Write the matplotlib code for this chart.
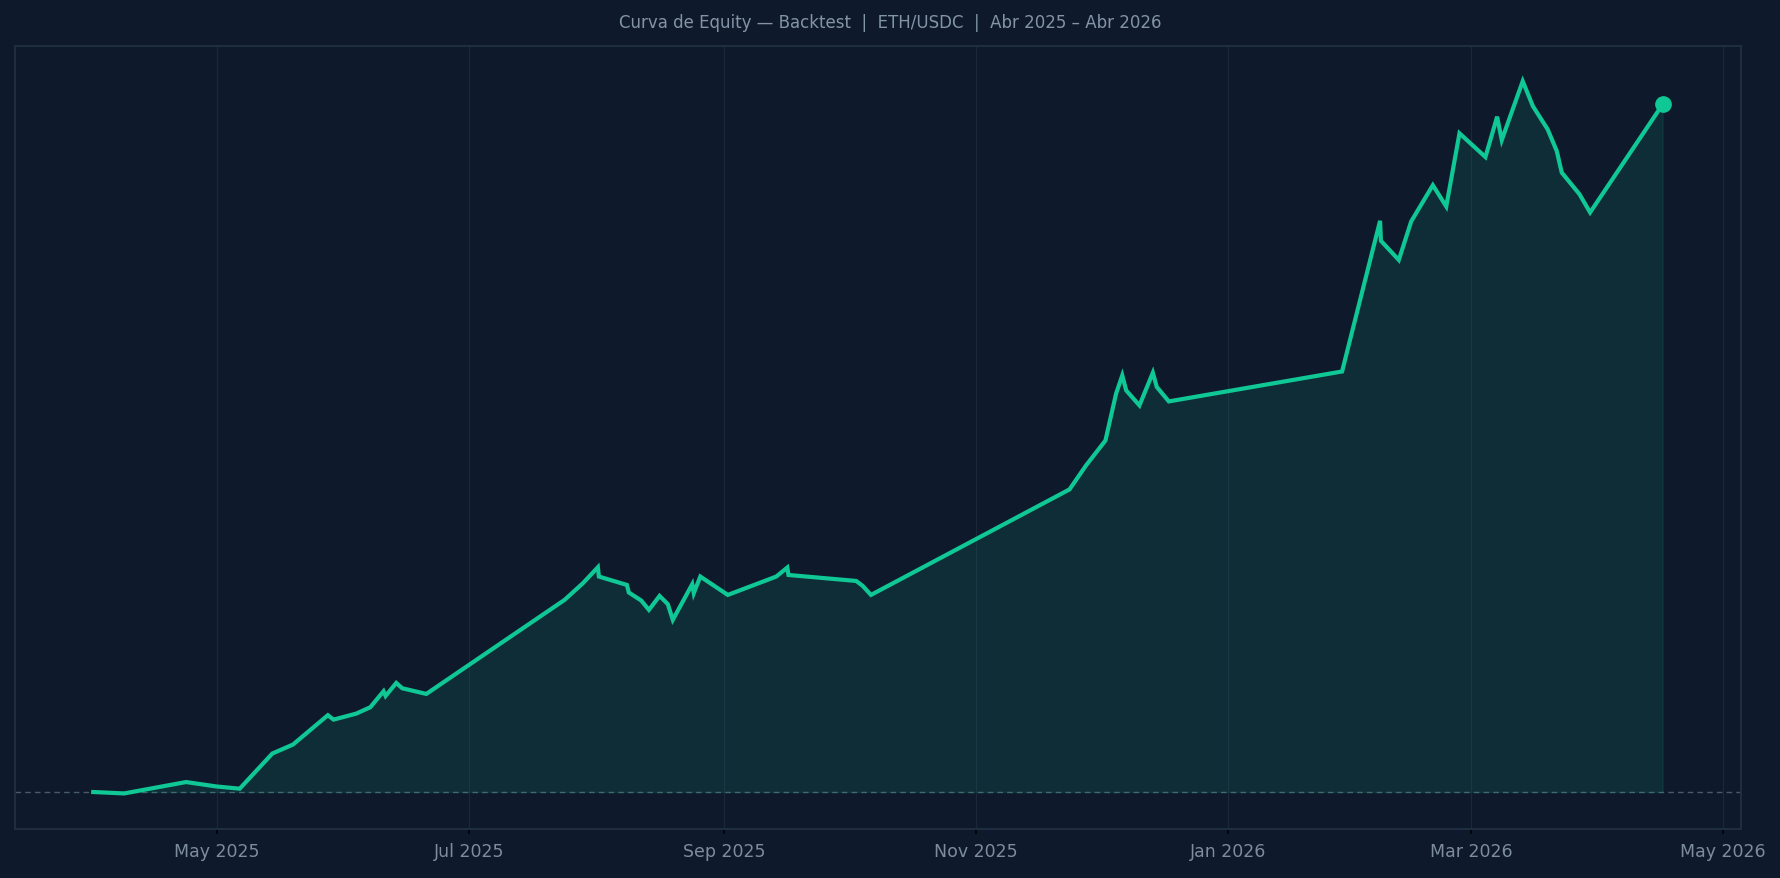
import matplotlib
matplotlib.use("Agg")
import matplotlib.pyplot as plt
import matplotlib.dates as mdates
import pandas as pd

# ---- data (equity curve) ----
initial_capital = 10000
timestamps = [
    "2025-04-01 00:00", "2025-04-08 12:00", "2025-04-23 12:00", "2025-04-30 20:00",
    "2025-05-06 12:00", "2025-05-14 10:00", "2025-05-19 10:00", "2025-05-27 21:00",
    "2025-05-29 06:00", "2025-06-03 18:00", "2025-06-07 04:00", "2025-06-10 09:00",
    "2025-06-10 21:00", "2025-06-13 11:00", "2025-06-14 22:00", "2025-06-20 18:00",
    "2025-07-24 06:00", "2025-07-28 17:00", "2025-08-01 08:00", "2025-08-01 14:00",
    "2025-08-08 09:00", "2025-08-08 20:00", "2025-08-11 20:00", "2025-08-13 17:00",
    "2025-08-16 07:00", "2025-08-18 07:00", "2025-08-19 12:00", "2025-08-24 05:00",
    "2025-08-24 14:00", "2025-08-26 04:00", "2025-09-01 20:00", "2025-09-13 14:00",
    "2025-09-16 06:00", "2025-09-16 13:00", "2025-10-02 23:00", "2025-10-04 13:00",
    "2025-10-06 13:00", "2025-11-23 16:00", "2025-11-27 17:00", "2025-12-02 09:00",
    "2025-12-04 23:00", "2025-12-06 11:00", "2025-12-07 10:00", "2025-12-10 15:00",
    "2025-12-13 21:00", "2025-12-14 20:00", "2025-12-17 18:00", "2026-01-28 18:00",
    "2026-02-06 23:00", "2026-02-07 04:00", "2026-02-11 12:00", "2026-02-14 12:00",
    "2026-02-19 18:00", "2026-02-23 00:00", "2026-02-26 05:00", "2026-03-04 12:00",
    "2026-03-07 08:00", "2026-03-08 11:00", "2026-03-13 13:00", "2026-03-16 00:00",
    "2026-03-19 14:00", "2026-03-21 19:00", "2026-03-23 00:00", "2026-03-27 07:00",
    "2026-03-29 21:00", "2026-04-16 11:00",
]
equity = [
    10000, 9983, 10120, 10067,
    10040, 10463, 10571, 10924,
    10871, 10943, 11020, 11212,
    11156, 11312, 11248, 11180,
    12311, 12512, 12704, 12592,
    12491, 12400, 12304, 12191,
    12359, 12260, 12071, 12500,
    12392, 12592, 12371, 12592,
    12700, 12611, 12539, 12479,
    12371, 13640, 13931, 14228,
    14792, 15011, 14831, 14651,
    15044, 14872, 14699, 15059,
    16871, 16631, 16400, 16864,
    17300, 17044, 17924, 17639,
    18124, 17843, 18551, 18251,
    17972, 17711, 17452, 17192,
    16972, 18272,
]
title = "Curva de Equity — Backtest  |  ETH/USDC  |  Abr 2025 – Abr 2026"

# ---- style ----
BG = "#0e1a2b"
LINE = "#10c896"
SPINE = "#1e2d40"
GRID = "#1a2839"
TXT = "#7d8c9e"

dates = pd.to_datetime(timestamps)

fig = plt.figure(figsize=(17.81, 8.79), dpi=100, facecolor=BG)
ax = fig.add_axes([0.0083, 0.0557, 0.9693, 0.8913], facecolor=BG)

ax.fill_between(dates, equity, initial_capital, color=LINE, alpha=0.11, zorder=2)
ax.plot(dates, equity, color=LINE, lw=3.0, zorder=3, solid_joinstyle="miter")
ax.plot(dates[-1:], equity[-1:], "o", color=LINE, ms=11, zorder=4)
ax.axhline(initial_capital, color="#4b5a69", lw=1.0, ls=(0, (4, 3)), zorder=1)

ax.xaxis.set_major_locator(mdates.MonthLocator(bymonth=[1, 3, 5, 7, 9, 11]))
ax.xaxis.set_major_formatter(mdates.DateFormatter("%b %Y"))
ax.set_yticks([])
ax.grid(axis="x", color=GRID, lw=0.9, zorder=0)
ax.tick_params(axis="x", labelcolor=TXT, labelsize=12.5, color="black", width=1.2, pad=6)
for s in ax.spines.values():
    s.set_color(SPINE)
    s.set_linewidth(1.5)

fig.text(0.5, 1 - 23 / 879, title, ha="center", va="center", color="#8394a8", fontsize=12)

fig.savefig("out.png", dpi=100, facecolor=BG)
